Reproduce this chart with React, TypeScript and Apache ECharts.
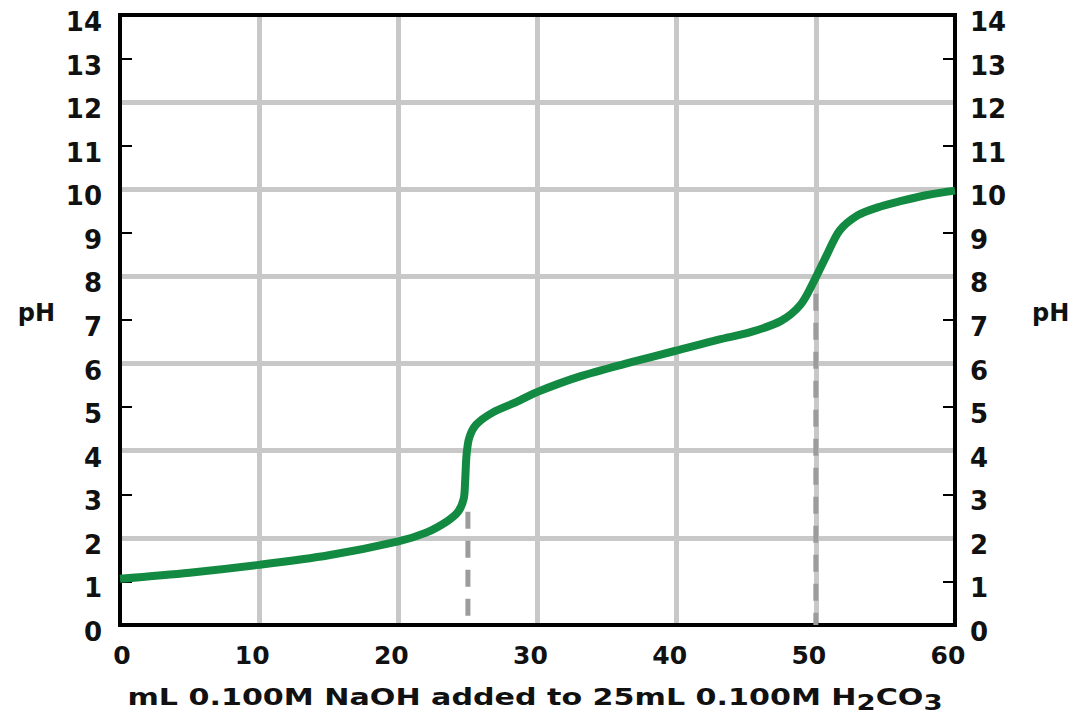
import { useEffect, useRef } from "react";
import * as echarts from "echarts";

// Titration curve: mL NaOH added vs pH
const volumeMl = [0, 5, 10, 15, 20, 22, 23.5, 24.3, 24.7, 24.8, 24.9, 25.1, 25.6, 26.8, 28.5, 30, 33, 36.6, 40, 43, 45.3, 47.5, 48.9, 49.8, 50.8, 51.7, 53, 54.4, 56, 58, 60];
const phValues = [1.06, 1.2, 1.38, 1.6, 1.92, 2.12, 2.38, 2.6, 2.9, 3.3, 3.9, 4.3, 4.6, 4.88, 5.12, 5.35, 5.7, 6.02, 6.3, 6.55, 6.72, 6.98, 7.35, 7.85, 8.5, 9.05, 9.4, 9.58, 9.72, 9.87, 9.97];

// Equivalence-point markers (dashed verticals)
const equivalenceVolumes = [25, 50];
const equivalenceMarkerTops = [2.6, 7.6];

// Minor ticks on the pH axes
const phMinorTicks = [1, 3, 5, 7, 9, 11, 13];

const FONT = "DejaVu Sans";

export default function App() {
  const ref = useRef<HTMLDivElement>(null);

  useEffect(() => {
    if (!ref.current) return;
    const chart = echarts.init(ref.current, null, { renderer: "svg" });

    const frameLine = { color: "#000", width: 4, cap: "square" };
    const gridLine = { color: "#c8c8c8", width: 5 };
    const txt = { fontFamily: FONT, fontWeight: "bold", color: "#111" };
    const yLabel = {
      margin: 18,
      ...txt,
      fontSize: 26,
      formatter: "{a|{value}}",
      rich: { a: { ...txt, fontSize: 26, padding: [14, 0, 0, 0] } },
    };
    const nameStyle = {
      ...txt,
      fontSize: 24,
      rich: { p: { ...txt, fontSize: 24, padding: [0, 0, 14, 0] } },
    };

    const markerSeries = equivalenceVolumes.map((v, i) => ({
      type: "line",
      data: [
        [v, equivalenceMarkerTops[i]],
        [v, 0],
      ],
      symbol: "none",
      silent: true,
      z: 2,
      lineStyle: { color: "#9c9c9c", width: 5, type: [17, 12] },
    }));

    const option = {
      animation: false,
      backgroundColor: "#ffffff",
      grid: { left: 120, right: 123, top: 15, bottom: 92, containLabel: false },
      xAxis: [
        {
          type: "value",
          min: 0,
          max: 60,
          interval: 10,
          position: "bottom",
          axisLine: { show: true, onZero: false, lineStyle: frameLine },
          axisTick: { show: false },
          axisLabel: {
            margin: 18,
            ...txt,
            fontSize: 25,
            formatter: (v: number) => (v === 0 ? "{z|0}" : "{a|" + v + "}"),
            rich: {
              a: { ...txt, fontSize: 25, padding: [0, 14, 0, 0] },
              z: { ...txt, fontSize: 25, padding: [0, 0, 0, 4] },
            },
          },
          splitLine: { show: true, showMinLine: false, showMaxLine: false, lineStyle: gridLine },
        },
        {
          type: "value",
          min: 0,
          max: 60,
          interval: 10,
          position: "top",
          axisLine: { show: true, onZero: false, lineStyle: frameLine },
          axisTick: { show: false },
          axisLabel: { show: false },
          splitLine: { show: false },
        },
      ],
      yAxis: [
        {
          type: "value",
          min: 0,
          max: 14,
          interval: 1,
          position: "left",
          name: "{p|pH}",
          nameLocation: "middle",
          nameRotate: 0,
          nameGap: 65,
          nameTextStyle: nameStyle,
          axisLine: { show: true, onZero: false, lineStyle: frameLine },
          axisTick: {
            show: true,
            inside: true,
            length: 12,
            customValues: phMinorTicks,
            lineStyle: { color: "#000", width: 2 },
          },
          axisLabel: yLabel,
          splitLine: { show: false },
        },
        {
          type: "value",
          min: 0,
          max: 14,
          interval: 2,
          position: "left",
          axisLine: { show: false },
          axisTick: { show: false },
          axisLabel: { show: false },
          splitLine: { show: true, showMinLine: false, showMaxLine: false, lineStyle: gridLine },
        },
        {
          type: "value",
          min: 0,
          max: 14,
          interval: 1,
          position: "right",
          name: "{p|pH}",
          nameLocation: "middle",
          nameRotate: 0,
          nameGap: 77,
          nameTextStyle: nameStyle,
          axisLine: { show: true, onZero: false, lineStyle: frameLine },
          axisTick: {
            show: true,
            inside: true,
            length: 12,
            customValues: phMinorTicks,
            lineStyle: { color: "#000", width: 2 },
          },
          axisLabel: { ...yLabel, margin: 15 },
          splitLine: { show: false },
        },
      ],
      graphic: [
        {
          type: "text",
          x: 535,
          y: 697,
          scaleX: 1.31,
          silent: true,
          style: {
            text: "mL 0.100M NaOH added to 25mL 0.100M H{s|2}CO{s|3}",
            fontFamily: FONT,
            fontWeight: "bold",
            fontSize: 23,
            fill: "#111",
            align: "center",
            verticalAlign: "middle",
            textAlign: "center",
            textVerticalAlign: "middle",
            rich: {
              s: {
                fontFamily: FONT,
                fontWeight: "bold",
                fontSize: 21,
                fill: "#111",
                padding: [12, 0, 0, 0],
              },
            },
          },
        },
      ],
      series: [
        ...markerSeries,
        {
          type: "line",
          data: volumeMl.map((v, i) => [v, phValues[i]]),
          smooth: 0.3,
          symbol: "none",
          silent: true,
          z: 3,
          lineStyle: { color: "#138a41", width: 8 },
        },
      ],
    };

    chart.setOption(option as any);
    return () => chart.dispose();
  }, []);

  return (
    <div
      ref={ref}
      style={{ position: "fixed", left: 0, top: 0, width: 1078, height: 717, background: "#fff" }}
    />
  );
}
